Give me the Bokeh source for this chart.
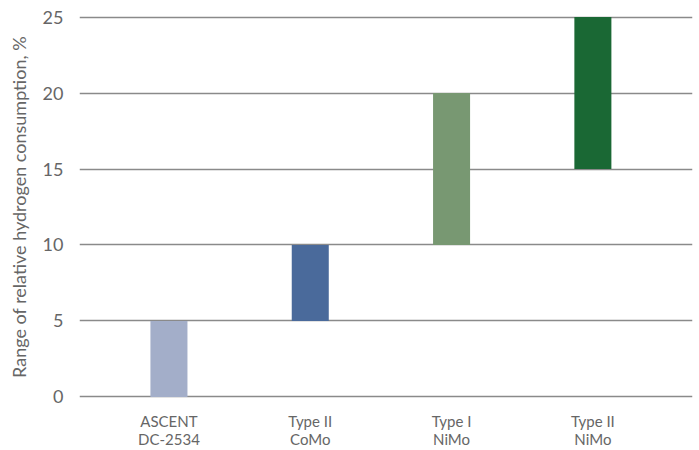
from bokeh.plotting import figure
from bokeh.models import Range1d, FixedTicker, ColumnDataSource
from bokeh.embed import file_html
from bokeh.resources import INLINE

categories = ["ASCENT\nDC-2534", "Type II\nCoMo", "Type I\nNiMo", "Type II\nNiMo"]
range_low = [0, 5, 10, 15]
range_high = [5, 10, 20, 25]
colors = ["#a3aec9", "#4a6a9b", "#789872", "#1a6834"]
y_ticks = [0, 5, 10, 15, 20, 25]

xs = list(range(len(categories)))
src = ColumnDataSource(dict(x=xs, bottom=range_low, top=range_high, color=colors))

p = figure(width=699, height=450, output_backend="svg", toolbar_location=None,
           x_range=Range1d(-0.633, 3.705), y_range=Range1d(-0.1, 25.1),
           min_border_left=79, min_border_right=7, min_border_top=15, min_border_bottom=52)
p.outline_line_color = None
p.background_fill_color = "white"
p.border_fill_color = "white"

p.vbar(x="x", bottom="bottom", top="top", width=0.262, color="color", line_color=None, source=src)

p.xgrid.grid_line_color = None
p.ygrid.grid_line_color = "#8a8a8a"
p.ygrid.grid_line_width = 1.5
p.ygrid.ticker = FixedTicker(ticks=y_ticks)

p.yaxis.ticker = FixedTicker(ticks=y_ticks)
p.yaxis.axis_line_color = None
p.yaxis.major_tick_line_color = None
p.yaxis.minor_tick_line_color = None
p.yaxis.major_label_text_font = "Lato"
p.yaxis.major_label_text_font_size = "18px"
p.yaxis.major_label_text_color = "#666666"
p.yaxis.major_label_standoff = 10
p.yaxis.axis_label = "Range of relative hydrogen consumption, %"
p.yaxis.axis_label_text_font = "Lato"
p.yaxis.axis_label_text_font_style = "normal"
p.yaxis.axis_label_text_font_size = "18px"
p.yaxis.axis_label_text_color = "#666666"
p.yaxis.axis_label_standoff = 10

p.xaxis.ticker = FixedTicker(ticks=xs)
p.xaxis.major_label_overrides = {i: c for i, c in zip(xs, categories)}
p.xaxis.axis_line_color = None
p.xaxis.major_tick_line_color = None
p.xaxis.minor_tick_line_color = None
p.xaxis.major_label_text_font = "Lato"
p.xaxis.major_label_text_font_size = "15px"
p.xaxis.major_label_text_color = "#666666"
p.xaxis.major_label_text_line_height = 1.0
p.xaxis.major_label_standoff = 7

open("out.html", "w").write(file_html(p, INLINE))
